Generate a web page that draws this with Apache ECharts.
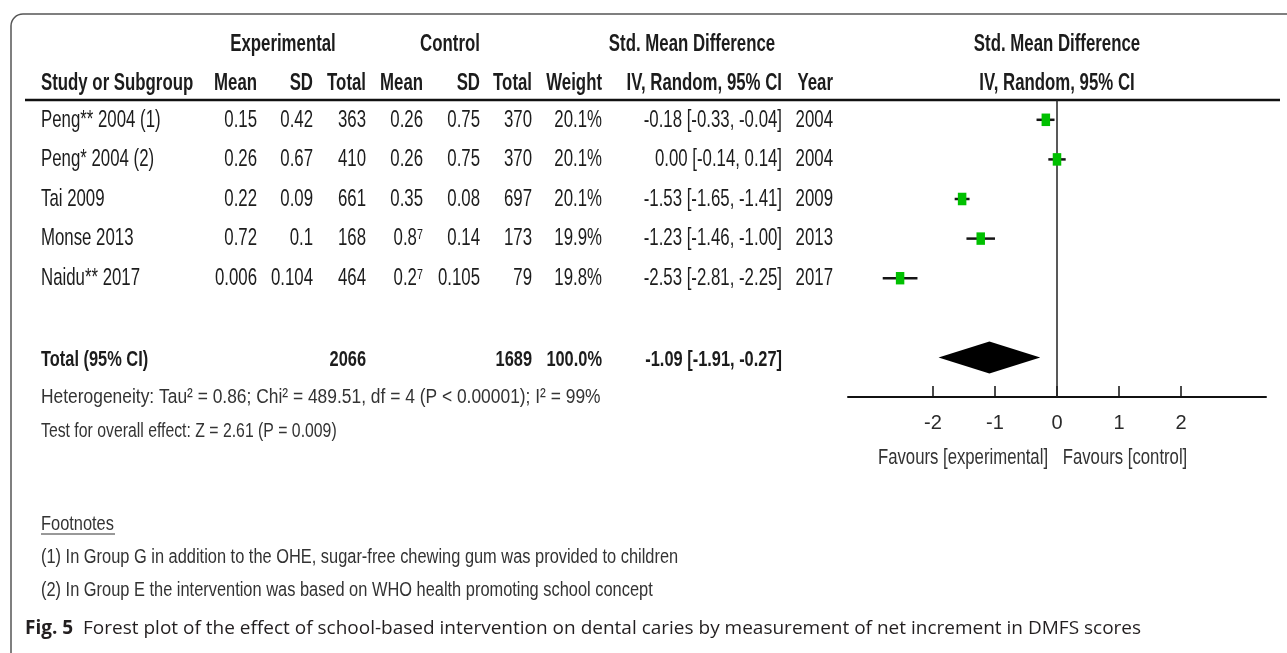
<!DOCTYPE html>
<html>
<head>
<meta charset="utf-8">
<script src="https://cdn.jsdelivr.net/npm/echarts@6/dist/echarts.min.js"></script>
<style>
  html, body { margin: 0; padding: 0; background: #fff; }
  #chart { width: 1287px; height: 653px; }
</style>
</head>
<body>
<div id="chart"></div>
<script>
// study rows
const studies = ['Peng** 2004 (1)', 'Peng* 2004 (2)', 'Tai 2009', 'Monse 2013', 'Naidu** 2017'];
const expMean = ['0.15', '0.26', '0.22', '0.72', '0.006'];
const expSD = ['0.42', '0.67', '0.09', '0.1', '0.104'];
const expTotal = [363, 410, 661, 168, 464];
const ctlMean = ['0.26', '0.26', '0.35', '0.8\u2077', '0.2\u2077'];
const ctlSD = ['0.75', '0.75', '0.08', '0.14', '0.105'];
const ctlTotal = [370, 370, 697, 173, 79];
const weights = [20.1, 20.1, 20.1, 19.9, 19.8];
const smd = [-0.18, 0.00, -1.53, -1.23, -2.53];
const ciLow = [-0.33, -0.14, -1.65, -1.46, -2.81];
const ciHigh = [-0.04, 0.14, -1.41, -1.00, -2.25];
const years = [2004, 2004, 2009, 2013, 2017];

// pooled
const pooled = [-1.09, -1.91, -0.27];
const totalExp = 2066;
const totalCtl = 1689;
const totalWeight = '100.0%';
const TOTAL_ROW = 6;

const xTicks = [-2, -1, 0, 1, 2];

const heterogeneity = 'Heterogeneity: Tau\u00b2 = 0.86; Chi\u00b2 = 489.51, df = 4 (P < 0.00001); I\u00b2 = 99%';
const overallTest = 'Test for overall effect: Z = 2.61 (P = 0.009)';
const footnotes = [
  '(1) In Group G in addition to the OHE, sugar-free chewing gum was provided to children',
  '(2) In Group E the intervention was based on WHO health promoting school concept'
];
const captionBold = 'Fig. 5';
const caption = 'Forest plot of the effect of school-based intervention on dental caries by measurement of net increment in DMFS scores';

// narrow look: Liberation Sans squeezed horizontally
const FONT = "'Liberation Sans', Arial, sans-serif";
const CAPTION_FONT = "'Open Sans', 'Noto Sans', sans-serif";
const INK = '#1c1c1c';

// column anchors (x px, alignment)
const COLS = {
  study: [41, 'left'],
  expMean: [257, 'right'],
  expSD: [313, 'right'],
  expTotal: [366, 'right'],
  ctlMean: [423, 'right'],
  ctlSD: [480, 'right'],
  ctlTotal: [532, 'right'],
  weight: [602, 'right'],
  smd: [782, 'right'],
  year: [833, 'right']
};

function txt(text, x, y, align, o) {
  o = o || {};
  return {
    type: 'text', x: x, y: y, scaleX: o.sx || 0.82, scaleY: o.sy || 1.2, silent: true,
    style: {
      text: text, fill: o.color || INK,
      fontSize: o.size || 20.5, fontFamily: FONT, fontWeight: o.bold ? 'bold' : 'normal',
      align: align, verticalAlign: 'middle'
    }
  };
}
function col(name, text, y, o) {
  return txt(text, COLS[name][0], y, COLS[name][1], o);
}
const ci = (e, l, h) => e.toFixed(2) + ' [' + l.toFixed(2) + ', ' + h.toFixed(2) + ']';

const NOTE = { size: 20, sy: 1.05, color: '#333' };
const TOT = { bold: true, size: 20, sy: 1.1 };

const chart = echarts.init(document.getElementById('chart'));

chart.setOption({
  animation: false,
  grid: { left: 848, right: 21, top: 100, bottom: 256 },
  xAxis: {
    type: 'value', min: -3.37, max: 3.37,
    axisLine: { show: true, onZero: false, lineStyle: { color: '#111', width: 2 } },
    axisTick: { show: true, inside: true, length: 11, customValues: xTicks, lineStyle: { color: '#111', width: 1.5 } },
    axisLabel: { customValues: xTicks, color: '#2a2a2a', fontSize: 20, fontFamily: FONT, margin: 16 },
    splitLine: { show: false }
  },
  yAxis: { type: 'value', min: -0.5, max: 7, inverse: true, show: false },
  graphic: [
    // frame with rounded top-left corner
    { type: 'rect', shape: { x: 11, y: 14, width: 1400, height: 800, r: [12, 0, 0, 0] }, silent: true,
      style: { fill: 'none', stroke: '#555', lineWidth: 1.5 } },
    { type: 'line', shape: { x1: 25, y1: 100, x2: 1280, y2: 100 }, silent: true, style: { stroke: '#111', lineWidth: 2.5 } },
    // header row 1
    txt('Experimental', 283, 44, 'center', { bold: true }),
    txt('Control', 450, 44, 'center', { bold: true }),
    txt('Std. Mean Difference', 692, 44, 'center', { bold: true }),
    txt('Std. Mean Difference', 1057, 44, 'center', { bold: true }),
    // header row 2
    col('study', 'Study or Subgroup', 83, { bold: true }),
    col('expMean', 'Mean', 83, { bold: true }),
    col('expSD', 'SD', 83, { bold: true }),
    col('expTotal', 'Total', 83, { bold: true }),
    col('ctlMean', 'Mean', 83, { bold: true }),
    col('ctlSD', 'SD', 83, { bold: true }),
    col('ctlTotal', 'Total', 83, { bold: true }),
    col('weight', 'Weight', 83, { bold: true }),
    col('smd', 'IV, Random, 95% CI', 83, { bold: true }),
    col('year', 'Year', 83, { bold: true }),
    txt('IV, Random, 95% CI', 1057, 83, 'center', { bold: true }),
    // summary lines
    txt(heterogeneity, 41, 397, 'left', { size: 20, sy: 1.05, sx: 0.87, color: '#333' }),
    txt(overallTest, 41, 431, 'left', { size: 20, sy: 1.05, sx: 0.79, color: '#333' }),
    txt('Favours [experimental]', 963, 458, 'center', { color: '#333', size: 20.4, sy: 1.1 }),
    txt('Favours [control]', 1125, 458, 'center', { color: '#333', size: 20.4, sy: 1.1 }),
    // footnotes
    txt('Footnotes', 41, 524, 'left', NOTE),
    { type: 'line', shape: { x1: 41, y1: 534, x2: 115, y2: 534 }, silent: true, style: { stroke: '#333', lineWidth: 1 } },
    txt(footnotes[0], 41, 557, 'left', NOTE),
    txt(footnotes[1], 41, 590, 'left', NOTE),
    // caption
    {
      type: 'text', x: 25, y: 629, silent: true,
      style: {
        text: '{b|' + captionBold + '}  ' + caption,
        fill: '#231f20', fontSize: 19, fontFamily: CAPTION_FONT,
        verticalAlign: 'middle',
        rich: { b: { fontWeight: 'bold', fontSize: 19, fontFamily: CAPTION_FONT, fill: '#231f20' } }
      }
    }
  ],
  series: [
    {
      // table text for each study row
      type: 'custom',
      coordinateSystem: 'cartesian2d',
      data: studies.map((s, i) => [0, i]),
      encode: { x: 0, y: 1 },
      clip: false,
      z: 1,
      renderItem: function (params, api) {
        const i = api.value(1);
        const y = api.coord([0, i])[1];
        return {
          type: 'group',
          children: [
            col('study', studies[i], y),
            col('expMean', expMean[i], y),
            col('expSD', expSD[i], y),
            col('expTotal', String(expTotal[i]), y),
            col('ctlMean', ctlMean[i], y),
            col('ctlSD', ctlSD[i], y),
            col('ctlTotal', String(ctlTotal[i]), y),
            col('weight', weights[i].toFixed(1) + '%', y),
            col('smd', ci(smd[i], ciLow[i], ciHigh[i]), y),
            col('year', String(years[i]), y)
          ]
        };
      }
    },
    {
      // total row text
      type: 'custom',
      coordinateSystem: 'cartesian2d',
      data: [[0, TOTAL_ROW]],
      clip: false,
      renderItem: function (params, api) {
        const y = api.coord([0, api.value(1)])[1] + 3;
        return {
          type: 'group',
          children: [
            col('study', 'Total (95% CI)', y, TOT),
            col('expTotal', String(totalExp), y, TOT),
            col('ctlTotal', String(totalCtl), y, TOT),
            col('weight', totalWeight, y, TOT),
            col('smd', ci(pooled[0], pooled[1], pooled[2]), y, TOT)
          ]
        };
      }
    },
    {
      // study estimates: CI line + weighted square
      type: 'custom',
      coordinateSystem: 'cartesian2d',
      data: studies.map((s, i) => [smd[i], ciLow[i], ciHigh[i], i, weights[i]]),
      encode: { x: [0, 1, 2], y: 3 },
      z: 5,
      renderItem: function (params, api) {
        const row = api.value(3);
        const p = api.coord([api.value(0), row]);
        const l = api.coord([api.value(1), row]);
        const h = api.coord([api.value(2), row]);
        const k = Math.sqrt(api.value(4) / 20);
        const w = 8.5 * k, ht = 12.5 * k;
        return {
          type: 'group',
          children: [
            { type: 'line', shape: { x1: l[0], y1: p[1], x2: h[0], y2: p[1] }, style: { stroke: '#151515', lineWidth: 2.5 } },
            { type: 'rect', shape: { x: p[0] - w / 2, y: p[1] - ht / 2, width: w, height: ht }, style: { fill: '#00c000' } }
          ]
        };
      },
      markLine: {
        silent: true, symbol: 'none', label: { show: false },
        lineStyle: { color: '#222', width: 1.5, type: 'solid' },
        data: [{ xAxis: 0 }]
      }
    },
    {
      // pooled diamond
      type: 'custom',
      coordinateSystem: 'cartesian2d',
      data: [[pooled[0], pooled[1], pooled[2], TOTAL_ROW]],
      encode: { x: [0, 1, 2], y: 3 },
      z: 5,
      renderItem: function (params, api) {
        const row = api.value(3);
        const c = api.coord([api.value(0), row]);
        const l = api.coord([api.value(1), row]);
        const h = api.coord([api.value(2), row]);
        const hh = 16;
        return {
          type: 'polygon',
          shape: { points: [[l[0], c[1]], [c[0], c[1] - hh], [h[0], c[1]], [c[0], c[1] + hh]] },
          style: { fill: '#000' }
        };
      }
    }
  ]
});
</script>
</body>
</html>
